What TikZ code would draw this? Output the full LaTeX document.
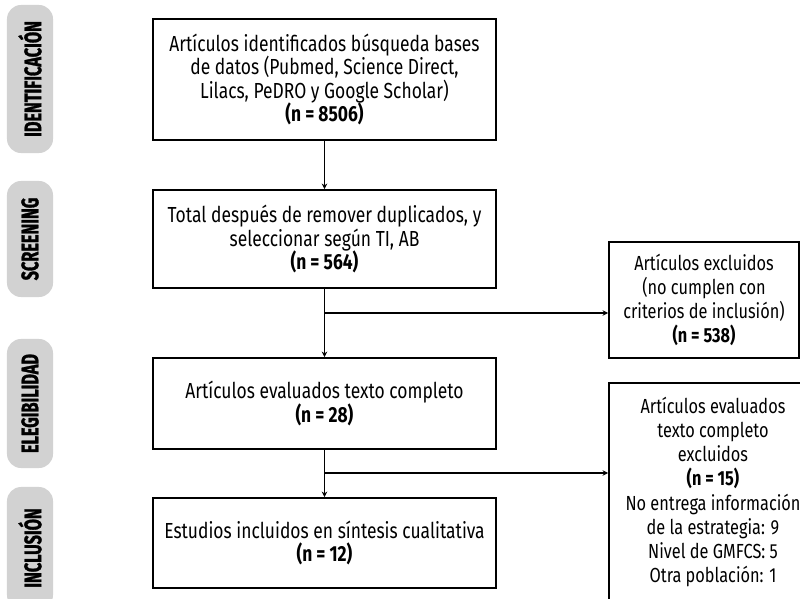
\documentclass[tikz,border=0pt]{standalone}
\usepackage{fontspec}
\setmainfont{Fira Sans}[FakeStretch=0.8]
\newfontfamily\phasefont{Fira Sans}[FakeStretch=0.68, BoldFeatures={FakeBold=1.2}]
\usetikzlibrary{arrows.meta}
\definecolor{phasegray}{HTML}{D2D2D2}

\begin{document}
\begin{tikzpicture}[x=0.025cm, y=-0.025cm,
  box/.style={draw=black, line width=1.2pt, align=center, inner sep=2pt,
    font=\fontsize{15.5}{16.8}\selectfont},
  exbox/.style={box, font=\fontsize{14.5}{17.2}\selectfont},
  phase/.style={fill=phasegray, rounded corners=10pt, rotate=90,
    minimum height=1.15cm, font=\phasefont\fontsize{17}{17}\selectfont\bfseries},
  link/.style={line width=0.8pt},
  arr/.style={link, -{Stealth[length=4pt, width=4pt]}}]
\useasboundingbox (0,0) rectangle (800,598);
% fases
\node[phase, minimum width=3.7cm] (fident) at (30,79) {IDENTIFICACIÓN};
\node[phase, minimum width=2.9cm] (fscreen) at (30,239) {SCREENING};
\node[phase, minimum width=3.225cm] (feleg) at (30,403.5) {ELEGIBILIDAD};
\node[phase, minimum width=3.05cm] (fincl) at (30,548) {INCLUSIÓN};
% cajas centrales
\node[box, minimum width=8.575cm, minimum height=3.025cm] (ident) at (324.5,79.5)
  {Artículos identificados búsqueda bases\\ de datos (Pubmed, Science Direct,\\ Lilacs, PeDRO y Google Scholar)\\ \textbf{(n = 8506)}};
\node[box, minimum width=8.575cm, minimum height=2.45cm] (screen) at (324.5,239)
  {Total después de remover duplicados, y\\ seleccionar según TI, AB\\ \textbf{(n = 564)}};
\node[box, minimum width=8.575cm, minimum height=2.275cm] (eleg) at (324.5,403.5)
  {Artículos evaluados texto completo\\ \textbf{(n = 28)}};
\node[box, minimum width=8.575cm, minimum height=2.25cm] (incl) at (324.5,543)
  {Estudios incluidos en síntesis cualitativa\\ \textbf{(n = 12)}};
% excluidos
\node[exbox, minimum width=4.75cm, minimum height=2.9cm] (excl1) at (704,300)
  {Artículos excluidos\\ (no cumplen con\\ criterios de inclusión)\\ \textbf{(n = 538)}};
\node[exbox, minimum width=5.2cm, minimum height=5.45cm] (excl2) at (713,492)
  {Artículos evaluados\\ texto completo\\ excluidos\\ \textbf{(n = 15)}\\ No entrega información\\ de la estrategia: 9\\ Nivel de GMFCS: 5\\ Otra población: 1};
% flechas
\coordinate (rama1) at (324.5,313);
\coordinate (rama2) at (324.5,473);
\draw[arr] (ident) -- (screen);
\draw[arr] (screen) -- (eleg);
\draw[arr] (eleg) -- (incl);
\draw[arr] (rama1) -- (rama1 -| excl1.west);
\draw[arr] (rama2) -- (rama2 -| excl2.west);
\end{tikzpicture}
\end{document}
